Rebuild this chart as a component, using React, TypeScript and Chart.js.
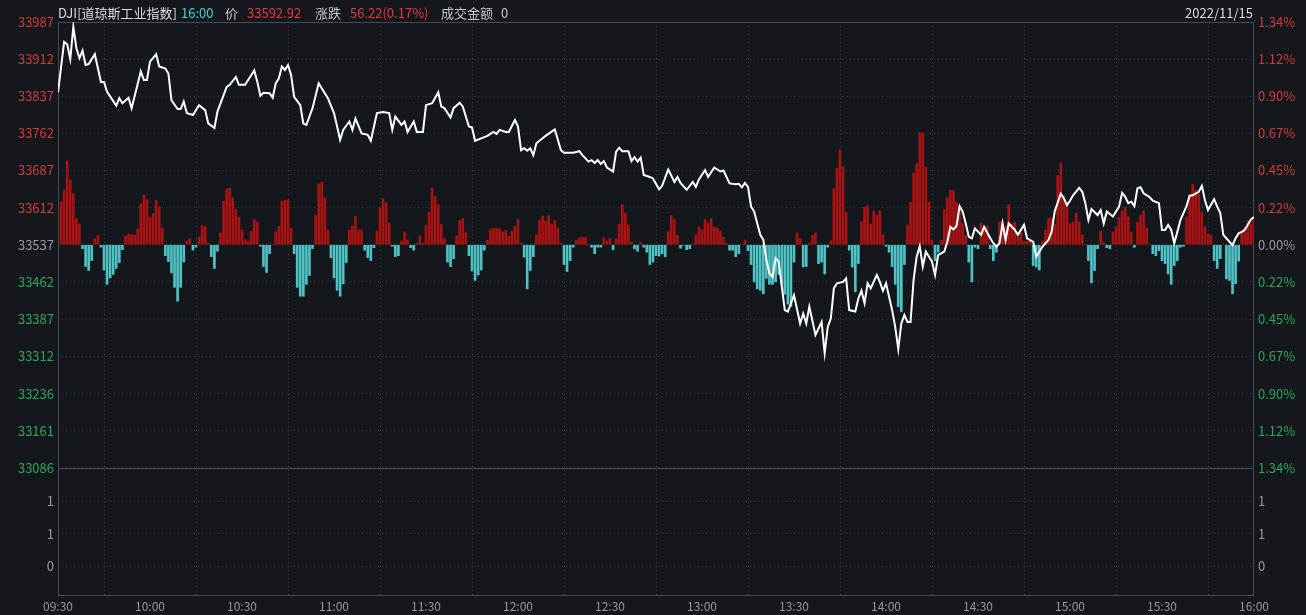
import { useEffect, useRef } from "react";
import { Chart, registerables } from "chart.js";

Chart.register(...registerables);

// ---- data ----
const BASE = 33537;
const PRICE_MIN = 33086;
const PRICE_MAX = 33987;

const timeTicks = [0, 30, 60, 90, 120, 150, 180, 210, 240, 270, 300, 330, 360, 390];
const timeLabels = ["09:30", "10:00", "10:30", "11:00", "11:30", "12:00", "12:30", "13:00", "13:30", "14:00", "14:30", "15:00", "15:30", "16:00"];

const priceTicks = [33086, 33161, 33236, 33312, 33387, 33462, 33537, 33612, 33687, 33762, 33837, 33912, 33987];
const pctLabels = ["1.34%", "1.12%", "0.90%", "0.67%", "0.45%", "0.22%", "0.00%", "0.22%", "0.45%", "0.67%", "0.90%", "1.12%", "1.34%"];

const volTicks = [0, 1, 2];
const volLabels = ["0", "1", "1"];

const lineMinutes = [
  0, 2, 3, 4, 5, 6, 7, 8, 9, 10,
  12, 14, 15, 16, 19, 20, 21, 23, 24, 27,
  28, 29, 30, 32, 33, 35, 36, 37, 39, 40,
  41, 42, 44, 46, 48, 49, 51, 52, 55, 56,
  58, 59, 61, 62, 64, 65, 66, 67, 69, 70,
  71, 72, 73, 74, 75, 76, 77, 79, 80, 81,
  83, 85, 86, 88, 90, 92, 93, 95, 96, 97,
  99, 101, 102, 104, 106, 108, 109, 110, 112, 113,
  114, 116, 117, 119, 120, 122, 124, 125, 126, 128,
  129, 131, 132, 134, 135, 136, 138, 140, 142, 143,
  144, 146, 147, 149, 150, 151, 152, 153, 154, 155,
  156, 158, 159, 162, 164, 165, 168, 170, 171, 173,
  174, 175, 176, 177, 178, 179, 181, 182, 183, 184,
  186, 187, 188, 189, 190, 191, 193, 194, 196, 197,
  199, 201, 202, 203, 205, 207, 208, 209, 211, 212,
  214, 216, 217, 219, 221, 222, 223, 224, 225, 226,
  227, 229, 230, 231, 232, 233, 234, 235, 237, 238,
  240, 242, 243, 244, 245, 247, 249, 250, 251, 252,
  253, 254, 256, 257, 258, 260, 261, 262, 263, 264,
  265, 267, 268, 269, 270, 272, 273, 274, 275, 276,
  277, 278, 279, 280, 281, 282, 283, 285, 286, 287,
  289, 290, 291, 292, 293, 294, 295, 296, 297, 298,
  299, 301, 302, 304, 305, 306, 307, 308, 309, 310,
  312, 313, 315, 316, 318, 319, 320, 321, 323, 324,
  325, 327, 328, 329, 330, 331, 333, 334, 335, 336,
  337, 339, 340, 341, 342, 344, 346, 347, 348, 349,
  350, 351, 352, 353, 354, 356, 357, 359, 360, 361,
  362, 363, 364, 365, 366, 368, 369, 370, 372, 373,
  374, 375, 377, 378, 379, 380, 382, 383, 384, 385,
  386, 387, 389, 390,
];

const linePrices = [
  33845, 33947, 33942, 33912, 33977, 33934, 33914, 33929, 33900, 33902,
  33922, 33866, 33866, 33846, 33818, 33833, 33823, 33834, 33813, 33887,
  33870, 33870, 33907, 33922, 33897, 33893, 33883, 33829, 33811, 33811,
  33826, 33803, 33799, 33819, 33809, 33782, 33773, 33806, 33856, 33860,
  33876, 33860, 33860, 33870, 33889, 33866, 33838, 33844, 33843, 33834,
  33863, 33873, 33897, 33890, 33900, 33880, 33836, 33819, 33782, 33779,
  33813, 33863, 33853, 33833, 33803, 33749, 33769, 33786, 33769, 33792,
  33762, 33759, 33747, 33803, 33805, 33803, 33769, 33796, 33779, 33786,
  33765, 33786, 33765, 33765, 33819, 33823, 33845, 33816, 33813, 33794,
  33813, 33824, 33816, 33776, 33774, 33747, 33752, 33757, 33765, 33761,
  33769, 33765, 33765, 33789, 33776, 33728, 33732, 33727, 33732, 33718,
  33742, 33752, 33757, 33770, 33728, 33723, 33723, 33726, 33718, 33705,
  33708, 33702, 33708, 33700, 33706, 33693, 33685, 33725, 33733, 33726,
  33726, 33706, 33714, 33705, 33713, 33678, 33674, 33671, 33649, 33656,
  33689, 33664, 33674, 33662, 33648, 33664, 33654, 33669, 33688, 33674,
  33693, 33685, 33687, 33661, 33659, 33660, 33653, 33662, 33654, 33614,
  33604, 33557, 33547, 33506, 33479, 33472, 33510, 33503, 33405, 33402,
  33435, 33378, 33398, 33378, 33412, 33355, 33381, 33318, 33371, 33388,
  33449, 33459, 33462, 33469, 33405, 33402, 33429, 33444, 33419, 33459,
  33449, 33476, 33462, 33444, 33459, 33405, 33371, 33326, 33378, 33395,
  33381, 33381, 33466, 33513, 33534, 33493, 33523, 33503, 33476, 33516,
  33523, 33543, 33573, 33568, 33575, 33615, 33604, 33580, 33553, 33550,
  33570, 33557, 33573, 33550, 33540, 33533, 33540, 33580, 33547, 33580,
  33567, 33557, 33577, 33550, 33543, 33513, 33523, 33533, 33547, 33563,
  33604, 33640, 33631, 33617, 33626, 33637, 33652, 33644, 33621, 33587,
  33609, 33597, 33607, 33580, 33604, 33594, 33614, 33642, 33634, 33621,
  33624, 33615, 33651, 33653, 33641, 33633, 33626, 33621, 33567, 33567,
  33577, 33567, 33540, 33563, 33587, 33615, 33636, 33637, 33644, 33656,
  33627, 33607, 33629, 33614, 33601, 33557, 33543, 33536, 33550, 33560,
  33563, 33567, 33588, 33593,
];

// one bar per minute (minute 1 .. 390), deviation from the previous close
const barValues = [
  86, 111, 169, 131, 103, 53, 42, -8, -44, -52,
  -32, 12, 18, -5, -51, -80, -67, -60, -48, -36,
  -10, 17, 22, 20, 19, 32, 83, 100, 91, 55,
  63, 90, 77, 34, -22, -34, -57, -86, -114, -86,
  -35, 7, 12, -11, -5, 15, 39, 37, 3, -24,
  -48, -13, 24, 88, 112, 114, 95, 71, 55, 30,
  10, 7, 27, 51, 46, -3, -44, -56, -18, 0,
  26, 37, 88, 90, 91, 33, -18, -86, -104, -104,
  -80, -62, -8, 59, 123, 127, 95, 30, -26, -67,
  -92, -104, -79, -36, 30, 38, 57, 30, 30, -11,
  -26, -32, -6, 28, 75, 93, 85, 44, -3, -24,
  -22, 7, 26, 10, -6, -11, 3, 18, 3, 39,
  66, 115, 98, 81, 41, 12, -35, -44, -28, 18,
  49, 53, 24, -22, -53, -72, -61, -51, -11, 9,
  31, 33, 33, 33, 26, 29, 17, 27, 37, 51,
  3, -25, -89, -52, -24, 20, 49, 58, 48, 59,
  42, 49, 34, 3, -40, -54, -32, -5, 9, 14,
  15, 15, 0, -5, -18, -5, -5, 14, 7, 13,
  -10, 13, 42, 81, 64, 40, 5, -8, -13, 4,
  -5, -15, -40, -35, -22, -23, -18, -24, 27, 59,
  51, 19, -7, -1, -10, -8, 0, 20, 36, 30,
  51, 44, 53, 36, 34, 28, 15, 3, -11, -11,
  -24, -18, 0, 10, -12, -40, -75, -89, -92, -99,
  -68, -80, -80, -75, -60, -80, -100, -120, -125, -35,
  24, 13, -45, -44, 3, 19, 24, -38, -35, -59,
  -5, 8, 113, 155, 192, 158, 66, -11, -45, -95,
  -38, 47, 76, 79, 42, 68, 59, 68, 20, -3,
  -15, -44, -80, -125, -135, -40, 39, 86, 145, 164,
  226, 226, 157, 86, 9, -32, -15, 9, 71, 95,
  110, 110, 86, 69, 42, 19, -35, -75, -5, -8,
  44, 28, 37, -8, -32, -15, 46, 48, 37, 81,
  42, 46, 15, 24, 7, 7, 7, -42, -45, -51,
  7, 30, 53, 53, 42, 140, 165, 98, 83, 42,
  46, 64, 46, 20, 0, -32, -77, -52, -8, 28,
  5, -6, -8, 26, 36, 55, 68, 76, 56, 26,
  -5, 46, 59, 68, 34, 0, -18, -22, -12, -32,
  -38, -59, -80, -42, -32, -5, -3, 56, 100, 122,
  110, 102, 66, 36, 22, 19, -32, -48, -28, 0,
  -69, -72, -99, -79, -33, 26, 36, 49, 42, 53,
];

// ---- styles ----
const BG = "#14171c";
const GRID = "#3b3f47";
const FRAME = "#474a52";
const AXIS_GRAY = "#9a9a9a";
const AXIS_RED = "#d53a3a";
const AXIS_GREEN = "#2ea658";
const BAR_RED = "#a91313";
const BAR_CYAN = "#4ec3c6";
const FONT = "'Noto Sans CJK SC', 'Noto Sans', sans-serif";

export default function App() {
  const ref = useRef<HTMLCanvasElement>(null);

  useEffect(() => {
    const canvas = ref.current;
    if (!canvas) return;
    const tickColor = (v: number) => (v > BASE + 0.5 ? AXIS_RED : v < BASE - 0.5 ? AXIS_GREEN : AXIS_GRAY);

    const frame = {
      id: "frame",
      beforeDatasetsDraw(chart: any) {
        const { ctx, chartArea } = chart;
        const y = chart.scales.y;
        ctx.save();
        ctx.strokeStyle = FRAME;
        ctx.lineWidth = 1;
        ctx.strokeRect(Math.round(chartArea.left) + 0.5, Math.round(chartArea.top) + 0.5,
          Math.round(chartArea.right - chartArea.left) - 1, Math.round(chartArea.bottom - chartArea.top) - 1);
        ctx.beginPath();
        const sy = Math.round(y.bottom) + 0.5;
        ctx.moveTo(chartArea.left, sy);
        ctx.lineTo(chartArea.right, sy);
        ctx.stroke();
        ctx.restore();
      },
    };

    const gridOpts = { color: GRID, drawTicks: false, lineWidth: 1 };
    const fontX = { family: FONT, size: 12 };
    const fontY = { family: FONT, size: 13 };

    const chart = new Chart(canvas, {
      type: "bar",
      data: {
        datasets: [
          {
            type: "line",
            data: lineMinutes.map((m, i) => ({ x: m, y: linePrices[i] })),
            borderColor: "#ffffff",
            borderWidth: 2,
            pointRadius: 0,
            tension: 0,
            xAxisID: "x",
            yAxisID: "y",
            order: 0,
          } as any,
          {
            type: "bar",
            data: barValues.map((v, i) => ({ x: i + 1, y: BASE + v })),
            base: BASE,
            backgroundColor: barValues.map((v) => (v >= 0 ? BAR_RED : BAR_CYAN)),
            borderWidth: 0,
            barThickness: 2,
            xAxisID: "x",
            yAxisID: "y",
            order: 1,
          } as any,
        ],
      },
      options: {
        animation: false,
        responsive: false,
        maintainAspectRatio: false,
        events: [],
        layout: { padding: { top: 22, left: 0, right: 0, bottom: 0 } },
        plugins: { legend: { display: false }, tooltip: { enabled: false } },
        scales: {
          x: {
            type: "linear",
            position: "bottom",
            min: 0,
            max: 390,
            offset: false,
            afterBuildTicks: (s: any) => { s.ticks = timeTicks.map((v) => ({ value: v })); },
            afterFit: (s: any) => { s.height = 19; },
            ticks: {
              autoSkip: false,
              maxRotation: 0,
              padding: 3,
              color: AXIS_GRAY,
              font: fontX,
              callback: (_v: any, i: number) => timeLabels[i],
            },
            grid: gridOpts,
            border: { display: false, dash: [1, 3] },
          },
          y: {
            type: "linear",
            position: "left",
            stack: "left",
            stackWeight: 446,
            weight: 2,
            min: PRICE_MIN,
            max: PRICE_MAX,
            afterBuildTicks: (s: any) => { s.ticks = priceTicks.map((v) => ({ value: v })); },
            afterFit: (s: any) => { s.width = 58; },
            ticks: {
              autoSkip: false,
              padding: 4,
              font: fontY,
              color: (c: any) => tickColor(c.tick.value),
              callback: (_v: any, i: number) => String(priceTicks[i]),
            },
            grid: gridOpts,
            border: { display: false, dash: [1, 3] },
          },
          yv: {
            type: "linear",
            position: "left",
            stack: "left",
            stackWeight: 128,
            weight: 1,
            min: -0.92,
            max: 3.02,
            afterBuildTicks: (s: any) => { s.ticks = volTicks.map((v) => ({ value: v })); },
            afterFit: (s: any) => { s.width = 58; },
            ticks: {
              autoSkip: false,
              padding: 4,
              font: fontY,
              color: AXIS_GRAY,
              callback: (_v: any, i: number) => volLabels[i],
            },
            grid: gridOpts,
            border: { display: false, dash: [1, 3] },
          },
          yr: {
            type: "linear",
            position: "right",
            stack: "right",
            stackWeight: 446,
            weight: 1,
            min: PRICE_MIN,
            max: PRICE_MAX,
            afterBuildTicks: (s: any) => { s.ticks = priceTicks.map((v) => ({ value: v })); },
            afterFit: (s: any) => { s.width = 52; },
            ticks: {
              autoSkip: false,
              padding: 4,
              font: fontY,
              color: (c: any) => tickColor(c.tick.value),
              callback: (_v: any, i: number) => pctLabels[i],
            },
            grid: { drawOnChartArea: false, drawTicks: false },
            border: { display: false },
          },
          yvr: {
            type: "linear",
            position: "right",
            stack: "right",
            stackWeight: 128,
            weight: 2,
            min: -0.92,
            max: 3.02,
            afterBuildTicks: (s: any) => { s.ticks = volTicks.map((v) => ({ value: v })); },
            afterFit: (s: any) => { s.width = 52; },
            ticks: {
              autoSkip: false,
              padding: 4,
              font: fontY,
              color: AXIS_GRAY,
              callback: (_v: any, i: number) => volLabels[i],
            },
            grid: { drawOnChartArea: false, drawTicks: false },
            border: { display: false },
          },
        },
      } as any,
      plugins: [frame],
    });

    return () => chart.destroy();
  }, []);

  const hdr = { position: "absolute" as const, top: 4, fontSize: 13, lineHeight: "18px", whiteSpace: "nowrap" as const };

  return (
    <div style={{ position: "fixed", left: 0, top: 0, width: 1306, height: 615, background: BG, overflow: "hidden", fontFamily: FONT }}>
      <canvas ref={ref} width={1306} height={615} style={{ position: "absolute", left: 0, top: 0, width: 1306, height: 615 }} />
      <span style={{ ...hdr, left: 58, color: "#dcdcdc" }}>DJI[道琼斯工业指数]</span>
      <span style={{ ...hdr, left: 181, color: "#4fd2d6" }}>16:00</span>
      <span style={{ ...hdr, left: 225, color: "#c8c8c8" }}>价</span>
      <span style={{ ...hdr, left: 247, color: "#e23c3c" }}>33592.92</span>
      <span style={{ ...hdr, left: 315, color: "#c8c8c8" }}>涨跌</span>
      <span style={{ ...hdr, left: 350, color: "#e23c3c" }}>56.22(0.17%)</span>
      <span style={{ ...hdr, left: 441, color: "#c8c8c8" }}>成交金额</span>
      <span style={{ ...hdr, left: 501, color: "#c8c8c8" }}>0</span>
      <span style={{ ...hdr, right: 1306 - 1253, color: "#dcdcdc" }}>2022/11/15</span>
    </div>
  );
}
